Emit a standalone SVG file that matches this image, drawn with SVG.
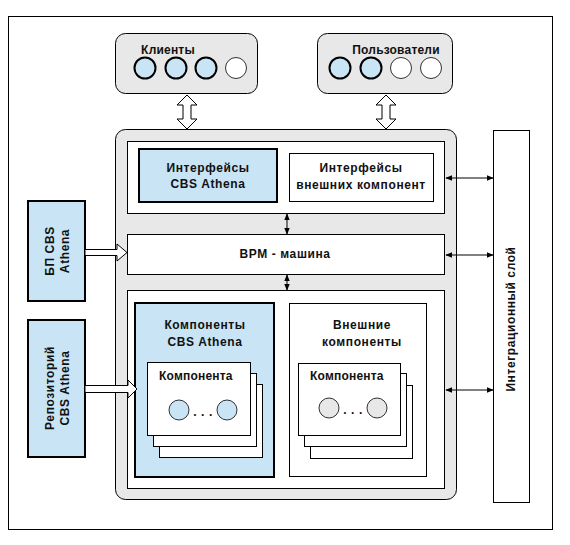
<svg xmlns="http://www.w3.org/2000/svg" width="570" height="545" viewBox="0 0 570 545">
<defs>
<style>
.t{font-family:"Liberation Sans",Arial,sans-serif;font-weight:bold;font-size:12px;fill:#111;text-anchor:middle;letter-spacing:0.6px}
.s{letter-spacing:0.2px}
.box{fill:#fff;stroke:#000;stroke-width:1}
.blue{fill:#c8e4f5;stroke:#000;stroke-width:2}
.gray{fill:#e8e8e8;stroke:#000;stroke-width:1}
.cb{fill:#c8e4f5;stroke:#000;stroke-width:2}
.cbt{fill:#c8e4f5;stroke:#000;stroke-width:0.8}
.cw{fill:#fff;stroke:#000;stroke-width:0.8}
.cg{fill:#e8e8e8;stroke:#000;stroke-width:0.8}
.hol{fill:#fff;stroke:#000;stroke-width:1}
.ln{stroke:#000;stroke-width:1;fill:none;marker-start:url(#ah);marker-end:url(#ah)}
</style>
<marker id="ah" viewBox="0 0 10 10" refX="9" refY="5" markerWidth="7" markerHeight="7" markerUnits="userSpaceOnUse" orient="auto-start-reverse">
<path d="M0,1 L10,5 L0,9 Z" fill="#000"/>
</marker>
</defs>
<rect x="0" y="0" width="570" height="545" fill="#fff"/>
<rect id="frame" x="8.5" y="16.5" width="544" height="513" fill="none" stroke="#000" stroke-width="1"/>

<g id="clients">
<rect class="gray" x="115.5" y="33.5" width="142" height="60" rx="10"/>
<text class="t s" x="168" y="54">Клиенты</text>
<circle class="cb" cx="145" cy="68" r="10.5"/>
<circle class="cb" cx="176" cy="68" r="10.5"/>
<circle class="cb" cx="206" cy="68" r="10.5"/>
<circle class="cw" cx="236" cy="68" r="10.5"/>
</g>

<g id="users">
<rect class="gray" x="317.5" y="33.5" width="135" height="60" rx="10"/>
<text class="t s" x="396" y="54">Пользователи</text>
<circle class="cb" cx="340" cy="68" r="10.5"/>
<circle class="cb" cx="371" cy="68" r="10.5"/>
<circle class="cw" cx="401" cy="68" r="10.5"/>
<circle class="cw" cx="431" cy="68" r="10.5"/>
</g>

<g id="platform">
<rect class="gray" x="115.5" y="129.5" width="341" height="370" rx="10"/>
</g>

<g id="interfaces-panel">
<rect class="box" x="127.5" y="141.5" width="317" height="72"/>
</g>
<g id="interfaces-cbs">
<rect class="blue" x="139" y="149" width="138" height="53"/>
<text class="t" x="208" y="172">Интерфейсы</text>
<text class="t" x="208" y="188">CBS Athena</text>
</g>
<g id="interfaces-ext">
<rect class="box" x="289.5" y="153.5" width="144" height="48"/>
<text class="t" x="361" y="172">Интерфейсы</text>
<text class="t" x="361" y="189">внешних компонент</text>
</g>

<g id="bpm">
<rect class="box" x="127.5" y="234.5" width="317" height="40"/>
<text class="t" x="285" y="258">BPM - машина</text>
</g>

<g id="components-panel">
<rect class="box" x="127.5" y="290.5" width="317" height="198"/>
</g>

<g id="components-cbs">
<rect class="blue" x="135" y="303" width="139" height="174"/>
<text class="t" x="205" y="329">Компоненты</text>
<text class="t" x="205" y="346">CBS Athena</text>
<rect class="box" x="159.5" y="384.5" width="103" height="73"/>
<rect class="box" x="153.5" y="373.5" width="103" height="73"/>
<rect class="box" x="147.5" y="362.5" width="103" height="73"/>
<text class="t s" x="159" y="380" style="text-anchor:start">Компонента</text>
<circle class="cbt" cx="179" cy="410" r="10"/>
<circle class="cbt" cx="227" cy="410" r="10"/>
<text class="t" x="203" y="416">. . .</text>
</g>

<g id="components-ext">
<rect class="box" x="289.5" y="303.5" width="137" height="173"/>
<text class="t" x="362" y="329">Внешние</text>
<text class="t" x="362" y="346">компоненты</text>
<rect class="box" x="310.5" y="385.5" width="102" height="73"/>
<rect class="box" x="304.5" y="373.5" width="102" height="73"/>
<rect class="box" x="298.5" y="363.5" width="102" height="72"/>
<text class="t s" x="310" y="380" style="text-anchor:start">Компонента</text>
<circle class="cg" cx="329" cy="408" r="10"/>
<circle class="cg" cx="377" cy="408" r="10"/>
<text class="t" x="353" y="414">. . .</text>
</g>

<g id="integration">
<rect class="box" x="493.5" y="130.5" width="36" height="372"/>
<text class="t" transform="translate(511,319) rotate(-90)" y="4">Интеграционный слой</text>
</g>

<g id="bp-cbs">
<rect class="blue" x="28" y="201" width="57" height="100"/>
<text class="t" transform="translate(56.5,251) rotate(-90)"><tspan x="0" y="-3">БП CBS</tspan><tspan x="0" y="12">Athena</tspan></text>
</g>

<g id="repository">
<rect class="blue" x="28" y="320" width="57" height="137"/>
<text class="t" transform="translate(56.5,388) rotate(-90)"><tspan x="0" y="-3">Репозиторий</tspan><tspan x="0" y="12">CBS Athena</tspan></text>
</g>

<g id="connectors">
<path class="hol" d="M187,95 L197,105 L191,105 L191,119 L197,119 L187,129 L177,119 L183,119 L183,105 L177,105 Z"/>
<path class="hol" d="M386,95 L396,105 L390,105 L390,119 L396,119 L386,129 L376,119 L382,119 L382,105 L376,105 Z"/>
<path class="hol" d="M85,249.5 L117,249.5 L117,244 L127,252.5 L117,261 L117,255.5 L85,255.5 Z"/>
<path class="hol" d="M85,385.5 L128,385.5 L128,380 L137,389 L128,398 L128,392.5 L85,392.5 Z"/>
<line class="ln" x1="287" y1="214" x2="287" y2="234"/>
<line class="ln" x1="287" y1="275" x2="287" y2="290"/>
<line class="ln" x1="446" y1="178" x2="493" y2="178"/>
<line class="ln" x1="446" y1="255" x2="493" y2="255"/>
<line class="ln" x1="446" y1="390" x2="493" y2="390"/>
</g>
</svg>
